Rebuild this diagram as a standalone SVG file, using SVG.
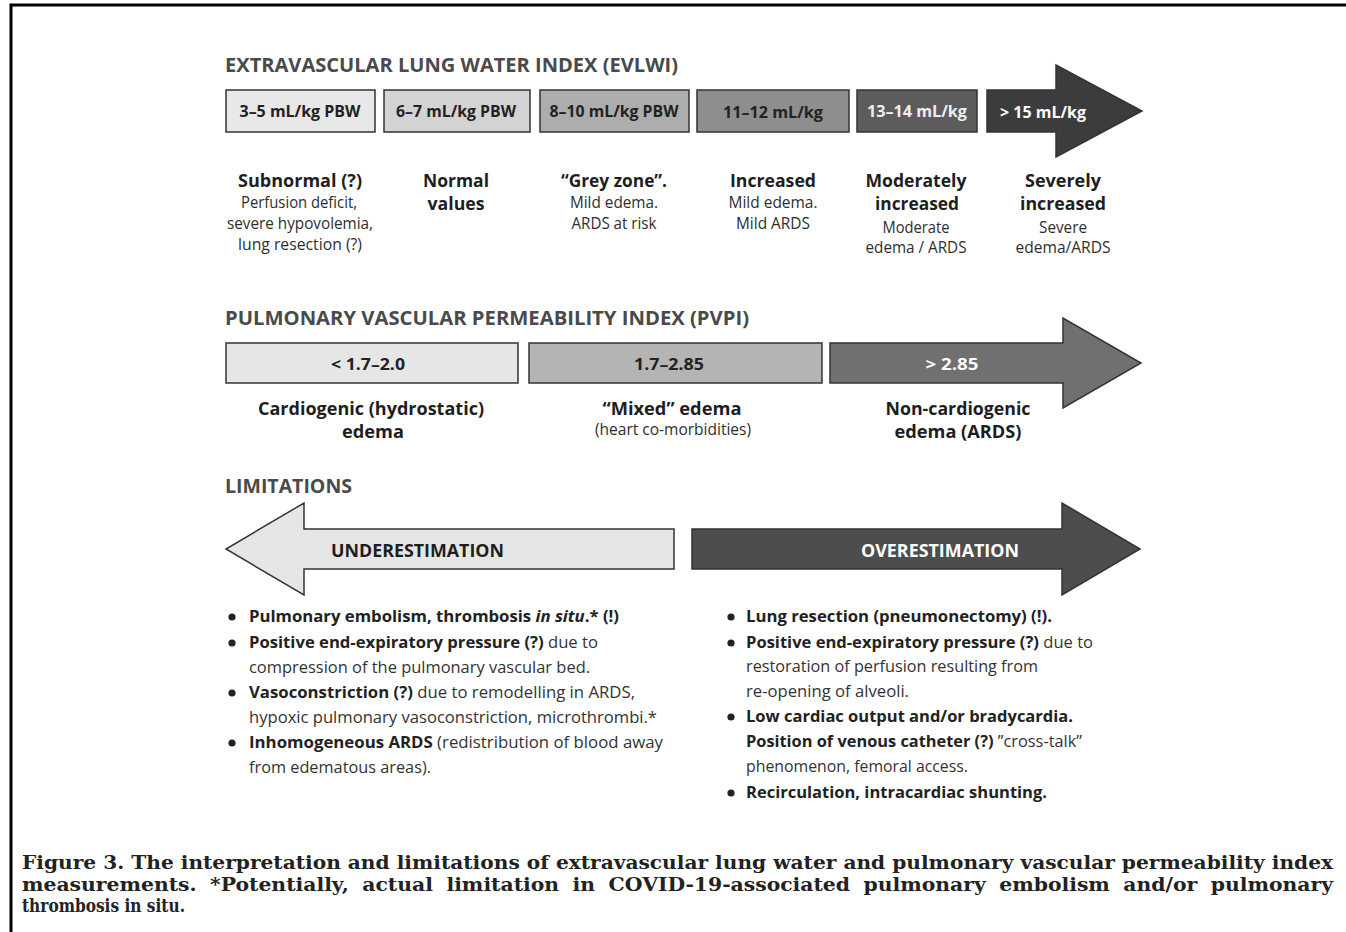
<svg xmlns="http://www.w3.org/2000/svg" width="1346" height="932" viewBox="0 0 1346 932">
<style>
.t{font-family:"Open Sans","Noto Sans","Liberation Sans",sans-serif;}
.h{font-weight:700;font-size:20px;fill:#4a4a4a;}
.bx{font-weight:700;font-size:16px;fill:#222;text-anchor:middle;}
.lb{font-weight:700;font-size:18.5px;fill:#1e1e1e;text-anchor:middle;}
.lr{font-weight:400;font-size:16px;fill:#2e2e2e;text-anchor:middle;}
.bl{font-size:16.5px;fill:#222;}
.b{font-weight:700;}
.r{font-weight:400;fill:#333;}
.cap{font-family:"DejaVu Serif","Liberation Serif",serif;font-weight:700;font-size:19px;fill:#222;}
.bs{stroke:#333;stroke-width:1.5;}
</style>
<rect x="0" y="0" width="1346" height="932" fill="#fff"/>
<g id="frame" fill="none" stroke="#000" stroke-width="3">
<path d="M11,932 V5 H1346"/>
</g>

<g id="evlwi-title"><text class="t h" x="225" y="72" textLength="453" lengthAdjust="spacingAndGlyphs">EXTRAVASCULAR LUNG WATER INDEX (EVLWI)</text></g>

<g id="evlwi-1"><rect class="bs" x="226" y="90" width="149" height="42" fill="#e8e8e8"/><text class="t bx" x="300" y="117" textLength="121" lengthAdjust="spacingAndGlyphs">3–5 mL/kg PBW</text></g>
<g id="evlwi-2"><rect class="bs" x="384" y="90" width="146" height="42" fill="#d3d3d3"/><text class="t bx" x="456" y="117" textLength="120" lengthAdjust="spacingAndGlyphs">6–7 mL/kg PBW</text></g>
<g id="evlwi-3"><rect class="bs" x="540" y="90" width="149" height="42" fill="#adadad"/><text class="t bx" x="614" y="117" textLength="129" lengthAdjust="spacingAndGlyphs">8–10 mL/kg PBW</text></g>
<g id="evlwi-4"><rect class="bs" x="697" y="90" width="152" height="42" fill="#8e8e8e"/><text class="t bx" x="773" y="118" textLength="100" lengthAdjust="spacingAndGlyphs">11–12 mL/kg</text></g>
<g id="evlwi-5"><rect class="bs" x="857" y="90" width="120" height="42" fill="#5c5c5c"/><text class="t bx" x="917" y="117" textLength="100" lengthAdjust="spacingAndGlyphs" style="fill:#eee">13–14 mL/kg</text></g>
<g id="evlwi-6"><path class="bs" d="M987,90 H1056 V65 L1142,111 L1056,157 V132 H987 Z" fill="#3c3c3c"/><text class="t bx" x="1043" y="118" textLength="86" lengthAdjust="spacingAndGlyphs" style="fill:#fff">&gt; 15 mL/kg</text></g>

<g id="evlwi-desc-1">
<text class="t lb" x="300" y="187" textLength="124" lengthAdjust="spacingAndGlyphs">Subnormal (?)</text>
<text class="t lr" x="299" y="208" textLength="116" lengthAdjust="spacingAndGlyphs">Perfusion deficit,</text>
<text class="t lr" x="300" y="229" textLength="146" lengthAdjust="spacingAndGlyphs">severe hypovolemia,</text>
<text class="t lr" x="300" y="250" textLength="124" lengthAdjust="spacingAndGlyphs">lung resection (?)</text>
</g>
<g id="evlwi-desc-2">
<text class="t lb" x="456" y="187" textLength="66" lengthAdjust="spacingAndGlyphs">Normal</text>
<text class="t lb" x="456" y="210" textLength="57" lengthAdjust="spacingAndGlyphs">values</text>
</g>
<g id="evlwi-desc-3">
<text class="t lb" x="614" y="187" textLength="106" lengthAdjust="spacingAndGlyphs">“Grey zone”.</text>
<text class="t lr" x="614" y="208" textLength="88" lengthAdjust="spacingAndGlyphs">Mild edema.</text>
<text class="t lr" x="614" y="229" textLength="85" lengthAdjust="spacingAndGlyphs">ARDS at risk</text>
</g>
<g id="evlwi-desc-4">
<text class="t lb" x="773" y="187" textLength="86" lengthAdjust="spacingAndGlyphs">Increased</text>
<text class="t lr" x="773" y="208" textLength="89" lengthAdjust="spacingAndGlyphs">Mild edema.</text>
<text class="t lr" x="773" y="229" textLength="74" lengthAdjust="spacingAndGlyphs">Mild ARDS</text>
</g>
<g id="evlwi-desc-5">
<text class="t lb" x="916" y="187" textLength="101" lengthAdjust="spacingAndGlyphs">Moderately</text>
<text class="t lb" x="917" y="210" textLength="84" lengthAdjust="spacingAndGlyphs">increased</text>
<text class="t lr" x="916" y="233" textLength="67" lengthAdjust="spacingAndGlyphs">Moderate</text>
<text class="t lr" x="916" y="253" textLength="101" lengthAdjust="spacingAndGlyphs">edema / ARDS</text>
</g>
<g id="evlwi-desc-6">
<text class="t lb" x="1063" y="187" textLength="76" lengthAdjust="spacingAndGlyphs">Severely</text>
<text class="t lb" x="1063" y="210" textLength="86" lengthAdjust="spacingAndGlyphs">increased</text>
<text class="t lr" x="1063" y="233" textLength="48" lengthAdjust="spacingAndGlyphs">Severe</text>
<text class="t lr" x="1063" y="253" textLength="95" lengthAdjust="spacingAndGlyphs">edema/ARDS</text>
</g>

<g id="pvpi-title"><text class="t h" x="225" y="325" textLength="524" lengthAdjust="spacingAndGlyphs">PULMONARY VASCULAR PERMEABILITY INDEX (PVPI)</text></g>

<g id="pvpi-1"><rect class="bs" x="226" y="343" width="292" height="40" fill="#e6e6e6"/><text class="t bx" x="368" y="370" textLength="74" lengthAdjust="spacingAndGlyphs" style="font-size:16.5px">&lt; 1.7–2.0</text>
<text class="t lb" x="371" y="415" textLength="226" lengthAdjust="spacingAndGlyphs">Cardiogenic (hydrostatic)</text>
<text class="t lb" x="373" y="438" textLength="62" lengthAdjust="spacingAndGlyphs">edema</text></g>
<g id="pvpi-2"><rect class="bs" x="529" y="343" width="293" height="40" fill="#b4b4b4"/><text class="t bx" x="669" y="370" textLength="70" lengthAdjust="spacingAndGlyphs" style="font-size:16.5px">1.7–2.85</text>
<text class="t lb" x="672" y="415" textLength="139" lengthAdjust="spacingAndGlyphs">“Mixed” edema</text>
<text class="t lr" x="673" y="435" textLength="156" lengthAdjust="spacingAndGlyphs">(heart co-morbidities)</text></g>
<g id="pvpi-3"><path class="bs" d="M830,343 H1063 V318 L1141,363 L1063,408 V383 H830 Z" fill="#707070"/><text class="t bx" x="952" y="370" textLength="53" lengthAdjust="spacingAndGlyphs" style="font-size:16.5px;fill:#fff">&gt; 2.85</text>
<text class="t lb" x="958" y="415" textLength="145" lengthAdjust="spacingAndGlyphs">Non-cardiogenic</text>
<text class="t lb" x="958" y="438" textLength="127" lengthAdjust="spacingAndGlyphs">edema (ARDS)</text></g>

<g id="lim-title"><text class="t h" x="225" y="493" textLength="127" lengthAdjust="spacingAndGlyphs">LIMITATIONS</text></g>

<g id="under"><path class="bs" d="M674,529 H304 V503 L226,549 L304,595 V569 H674 Z" fill="#e6e6e6"/><text class="t" x="331" y="557" font-size="18" font-weight="700" fill="#1e1e1e" textLength="173" lengthAdjust="spacingAndGlyphs">UNDERESTIMATION</text></g>
<g id="over"><path class="bs" d="M692,529 H1062 V503 L1140,549 L1062,595 V569 H692 Z" fill="#4d4d4d"/><text class="t" x="861" y="557" font-size="18" font-weight="700" fill="#fff" textLength="158" lengthAdjust="spacingAndGlyphs">OVERESTIMATION</text></g>

<g id="under-list" fill="#222">
<circle cx="232" cy="617" r="3.6"/><circle cx="232" cy="643" r="3.6"/><circle cx="232" cy="693" r="3.6"/><circle cx="232" cy="743" r="3.6"/>
<text class="t bl" x="249" y="622" textLength="370" lengthAdjust="spacingAndGlyphs"><tspan class="b">Pulmonary embolism, thrombosis </tspan><tspan class="b" font-style="italic">in situ</tspan><tspan class="b">.* (!)</tspan></text>
<text class="t bl" x="249" y="648" textLength="349" lengthAdjust="spacingAndGlyphs"><tspan class="b">Positive end-expiratory pressure (?)</tspan><tspan class="r"> due to</tspan></text>
<text class="t bl r" x="249" y="673" textLength="341" lengthAdjust="spacingAndGlyphs">compression of the pulmonary vascular bed.</text>
<text class="t bl" x="249" y="698" textLength="386" lengthAdjust="spacingAndGlyphs"><tspan class="b">Vasoconstriction (?)</tspan><tspan class="r"> due to remodelling in ARDS,</tspan></text>
<text class="t bl r" x="249" y="723" textLength="408" lengthAdjust="spacingAndGlyphs">hypoxic pulmonary vasoconstriction, microthrombi.*</text>
<text class="t bl" x="249" y="748" textLength="414" lengthAdjust="spacingAndGlyphs"><tspan class="b">Inhomogeneous ARDS</tspan><tspan class="r"> (redistribution of blood away</tspan></text>
<text class="t bl r" x="249" y="773" textLength="182" lengthAdjust="spacingAndGlyphs">from edematous areas).</text>
</g>

<g id="over-list" fill="#222">
<circle cx="731" cy="617" r="3.6"/><circle cx="731" cy="643" r="3.6"/><circle cx="731" cy="717" r="3.6"/><circle cx="731" cy="793" r="3.6"/>
<text class="t bl b" x="746" y="622" textLength="306" lengthAdjust="spacingAndGlyphs">Lung resection (pneumonectomy) (!).</text>
<text class="t bl" x="746" y="648" textLength="347" lengthAdjust="spacingAndGlyphs"><tspan class="b">Positive end-expiratory pressure (?)</tspan><tspan class="r"> due to</tspan></text>
<text class="t bl r" x="746" y="672" textLength="292" lengthAdjust="spacingAndGlyphs">restoration of perfusion resulting from</text>
<text class="t bl r" x="746" y="697" textLength="163" lengthAdjust="spacingAndGlyphs">re-opening of alveoli.</text>
<text class="t bl b" x="746" y="722" textLength="327" lengthAdjust="spacingAndGlyphs">Low cardiac output and/or bradycardia.</text>
<text class="t bl" x="746" y="747" textLength="336" lengthAdjust="spacingAndGlyphs"><tspan class="b">Position of venous catheter (?)</tspan><tspan class="r"> ”cross-talk”</tspan></text>
<text class="t bl r" x="746" y="772" textLength="222" lengthAdjust="spacingAndGlyphs">phenomenon, femoral access.</text>
<text class="t bl b" x="746" y="798" textLength="301" lengthAdjust="spacingAndGlyphs">Recirculation, intracardiac shunting.</text>
</g>

<g id="caption">
<text class="cap" x="22" y="869" textLength="1311" lengthAdjust="spacingAndGlyphs">Figure 3. The interpretation and limitations of extravascular lung water and pulmonary vascular permeability index</text>
<text class="cap" x="22" y="891" word-spacing="6" textLength="1311" lengthAdjust="spacingAndGlyphs">measurements. *Potentially, actual limitation in COVID-19-associated pulmonary embolism and/or pulmonary</text>
<text class="cap" x="22" y="912" textLength="163" lengthAdjust="spacingAndGlyphs">thrombosis in situ.</text>
</g>
</svg>
